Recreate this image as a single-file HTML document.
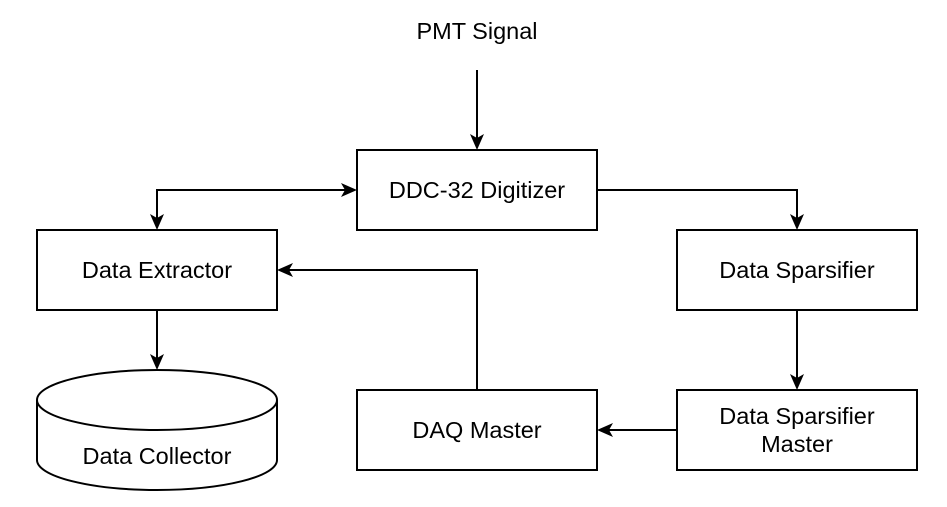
<!DOCTYPE html>
<html><head><style>body{margin:0;background:#fff}</style></head><body>
<svg width="947" height="502" viewBox="0 0 947 502" xmlns="http://www.w3.org/2000/svg" font-family="Liberation Sans, sans-serif" font-size="23.5">
<g fill="none" stroke="#000" stroke-width="2">
<rect x="357" y="150" width="240" height="80" fill="#fff"/>
<rect x="37" y="230" width="240" height="80" fill="#fff"/>
<rect x="677" y="230" width="240" height="80" fill="#fff"/>
<rect x="357" y="390" width="240" height="80" fill="#fff"/>
<rect x="677" y="390" width="240" height="80" fill="#fff"/>
<path d="M37,400 A120,30 0 0 1 277,400 L277,460 A120,30 0 0 1 37,460 Z" fill="#fff"/>
<path d="M37,400 A120,30 0 0 0 277,400"/>
<path d="M477,70 L477,140"/>
<path d="M157,220 L157,190 L347,190"/>
<path d="M597,190 L797,190 L797,220"/>
<path d="M797,310 L797,380"/>
<path d="M677,430 L607,430"/>
<path d="M477,390 L477,270 L287,270"/>
<path d="M157,310 L157,360"/>
</g>
<g fill="#000">
<path d="M477,150 L470,134 L477,138 L484,134 Z"/>
<path d="M157,230 L150,214 L157,218 L164,214 Z"/>
<path d="M357,190 L341,183 L345,190 L341,197 Z"/>
<path d="M797,230 L790,214 L797,218 L804,214 Z"/>
<path d="M797,390 L790,374 L797,378 L804,374 Z"/>
<path d="M597,430 L613,423 L609,430 L613,437 Z"/>
<path d="M277,270 L293,263 L289,270 L293,277 Z"/>
<path d="M157,370 L150,354 L157,358 L164,354 Z"/>
</g>
<g text-anchor="middle" fill="#000">
<text x="477" y="39">PMT Signal</text>
<text x="477" y="198">DDC-32 Digitizer</text>
<text x="157" y="278">Data Extractor</text>
<text x="797" y="278">Data Sparsifier</text>
<text x="477" y="438">DAQ Master</text>
<text x="797" y="424">Data Sparsifier</text>
<text x="797" y="452">Master</text>
<text x="157" y="464">Data Collector</text>
</g>
</svg>
</body></html>
